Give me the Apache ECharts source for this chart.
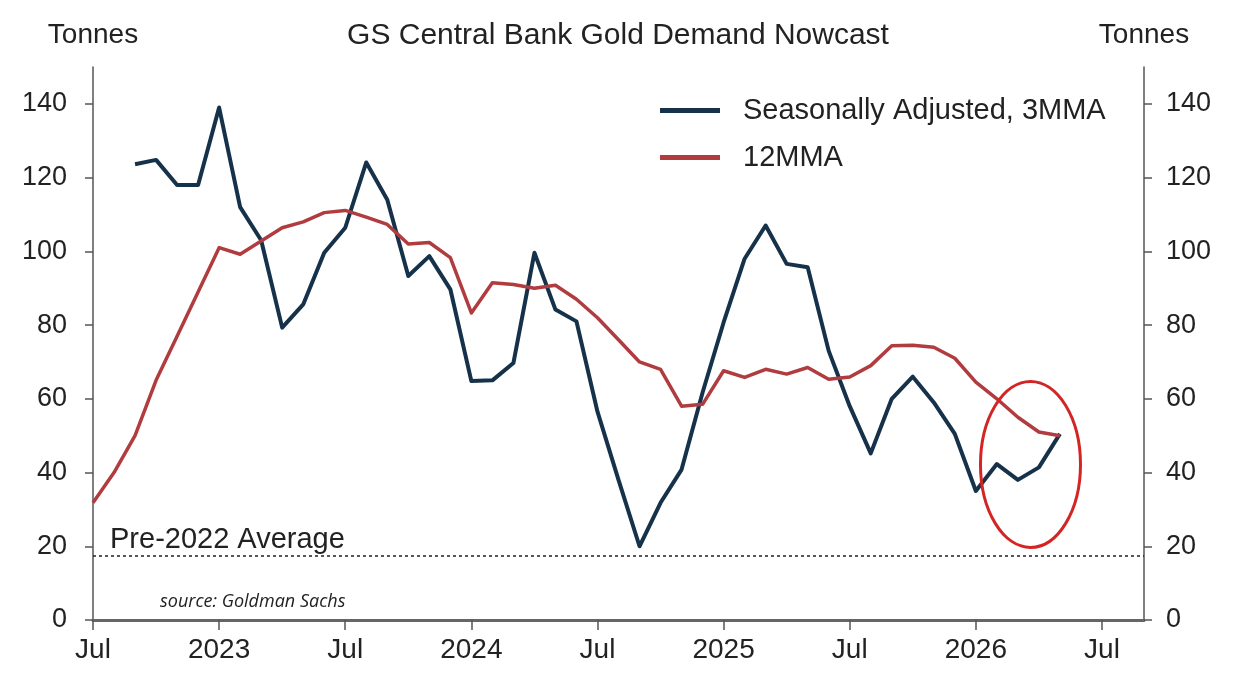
<!DOCTYPE html>
<html>
<head>
<meta charset="UTF-8">
<title>GS Central Bank Gold Demand Nowcast</title>
<script src="https://cdn.jsdelivr.net/npm/echarts@6/dist/echarts.min.js"></script>
<style>
  html, body { margin: 0; padding: 0; background: #fff; }
  #main { width: 1236px; height: 692px; }
</style>
</head>
<body>
<div id="main"></div>
<script>
// monthly points, Jul 2022 .. May 2026
var months = [
  '2022-07', '2022-08', '2022-09', '2022-10', '2022-11', '2022-12',
  '2023-01', '2023-02', '2023-03', '2023-04', '2023-05', '2023-06',
  '2023-07', '2023-08', '2023-09', '2023-10', '2023-11', '2023-12',
  '2024-01', '2024-02', '2024-03', '2024-04', '2024-05', '2024-06',
  '2024-07', '2024-08', '2024-09', '2024-10', '2024-11', '2024-12',
  '2025-01', '2025-02', '2025-03', '2025-04', '2025-05', '2025-06',
  '2025-07', '2025-08', '2025-09', '2025-10', '2025-11', '2025-12',
  '2026-01', '2026-02', '2026-03', '2026-04', '2026-05'
];
var sa3mma = [
  null, null, 123.6, 124.8, 118, 118,
  139, 112, 103, 79.3, 85.6, 99.6, 106.4, 124.1, 114, 93.3, 98.7, 89.7,
  64.8, 65, 69.7, 99.6, 84.2, 81, 56.5, 38, 20, 31.8, 40.8, 61.7,
  80.7, 98, 107, 96.6, 95.7, 73, 58, 45.2, 60, 66, 59, 50.5,
  35, 42.3, 38, 41.4, 50.5
];
var ma12 = [
  31.8, 40, 50, 65, 77, 89,
  101, 99.2, 102.8, 106.4, 108, 110.5, 111.1, 109.3, 107.3, 102, 102.4, 98.3,
  83.3, 91.5, 91, 90, 90.8, 87, 82, 76, 70, 68, 58, 58.5,
  67.6, 65.8, 68, 66.7, 68.5, 65.3, 65.9, 69, 74.4, 74.5, 74, 71,
  64.5, 60, 55, 51, 50
];
var pre2022Avg = 17.3;
var tickMonths = ['2022-07', '2023-01', '2023-07', '2024-01', '2024-07',
  '2025-01', '2025-07', '2026-01', '2026-07'];
var tickLabels = ['Jul', '2023', 'Jul', '2024', 'Jul', '2025', 'Jul', '2026', 'Jul'];
var yTicks = [0, 20, 40, 60, 80, 100, 120, 140];
var circleAt = ['2026-03', 42.2];   // centre of the red highlight ring

// month string -> months since Jul 2022 (x axis is a month index)
function mIdx(s) {
  var p = s.split('-');
  return (+p[0] - 2022) * 12 + (+p[1] - 7);
}
var tickPos = tickMonths.map(mIdx);
var saData = months.map(function (m, i) { return [mIdx(m), sa3mma[i]]; });
var maData = months.map(function (m, i) { return [mIdx(m), ma12[i]]; });

var fontFam = '"Liberation Sans", Arial, sans-serif';
var dark = '#16324a';
var red = '#b03c3f';

function yAxisOpt(pos) {
  return {
    type: 'value',
    position: pos,
    min: 0,
    max: 150,
    interval: 10,
    name: 'Tonnes',
    nameLocation: 'end',
    nameGap: 18,
    nameTextStyle: { fontSize: 28, color: '#222', fontFamily: fontFam, align: 'center' },
    splitLine: { show: false },
    axisLine: { show: true, lineStyle: { color: '#555', width: 1.5 } },
    axisTick: { show: true, length: 8, customValues: yTicks, lineStyle: { color: '#555', width: 1.5 } },
    axisLabel: { customValues: yTicks, fontSize: 27, color: '#222', fontFamily: fontFam, margin: pos === 'left' ? 26 : 22 }
  };
}

var chart = echarts.init(document.getElementById('main'), null, { renderer: 'canvas' });
var option = {
  animation: false,
  backgroundColor: '#fff',
  title: {
    text: 'GS Central Bank Gold Demand Nowcast',
    left: 'center',
    top: 16,
    textStyle: { fontSize: 30, fontWeight: 'normal', color: '#222', fontFamily: fontFam }
  },
  legend: {
    orient: 'vertical',
    left: 655,
    top: 91,
    icon: 'rect',
    itemWidth: 60,
    itemHeight: 5,
    itemGap: 18,
    data: ['Seasonally Adjusted, 3MMA', '12MMA'],
    textStyle: { fontSize: 29, color: '#222', fontFamily: fontFam, padding: [0, 0, 0, 18] }
  },
  grid: { left: 93, right: 92, top: 67, bottom: 72, containLabel: false, outerBoundsMode: 'none' },
  xAxis: {
    type: 'value',
    min: 0,
    max: 50,
    interval: 1,
    splitLine: { show: false },
    axisLine: { show: true, onZero: false, lineStyle: { color: '#666', width: 3 } },
    axisTick: { show: true, length: 10, customValues: tickPos, lineStyle: { color: '#555', width: 1.5 } },
    axisLabel: {
      customValues: tickPos,
      fontSize: 28,
      color: '#222',
      fontFamily: fontFam,
      margin: 16,
      formatter: function (v) {
        var i = tickPos.indexOf(v);
        return i >= 0 ? tickLabels[i] : '';
      }
    }
  },
  yAxis: [yAxisOpt('left'), yAxisOpt('right')],
  graphic: [{
    type: 'text',
    left: 160,
    top: 593,
    style: {
      text: 'source: Goldman Sachs',
      font: 'italic 18px "Open Sans", sans-serif',
      fill: '#222'
    }
  }],
  series: [
    {
      name: 'Seasonally Adjusted, 3MMA',
      type: 'line',
      data: saData,
      showSymbol: false,
      color: dark,
      lineStyle: { color: dark, width: 4, join: 'round' },
      markLine: {
        silent: true,
        symbol: 'none',
        lineStyle: { type: [3, 3], color: '#222', width: 1.5 },
        label: {
          show: true,
          position: 'insideStartTop',
          formatter: 'Pre-2022 Average',
          fontSize: 29,
          color: '#222',
          fontFamily: fontFam,
          distance: [17, 2]
        },
        data: [{ yAxis: pre2022Avg }]
      }
    },
    {
      name: '12MMA',
      type: 'line',
      data: maData,
      showSymbol: false,
      color: red,
      lineStyle: { color: red, width: 3.5, join: 'round' }
    },
    {
      type: 'custom',
      silent: true,
      clip: false,
      z: 10,
      data: [[mIdx(circleAt[0]) + 0.6, circleAt[1]]],
      renderItem: function (params, api) {
        var p = api.coord([api.value(0), api.value(1)]);
        var rx = 50, ry = 83;
        return {
          type: 'path',
          shape: {
            pathData: 'M0,83 A50,83 0 1,0 100,83 A50,83 0 1,0 0,83 Z',
            x: p[0] - rx, y: p[1] - ry, width: rx * 2, height: ry * 2
          },
          style: { fill: 'none', stroke: '#d42525', lineWidth: 3 }
        };
      }
    }
  ]
};
chart.setOption(option);
</script>
</body>
</html>
